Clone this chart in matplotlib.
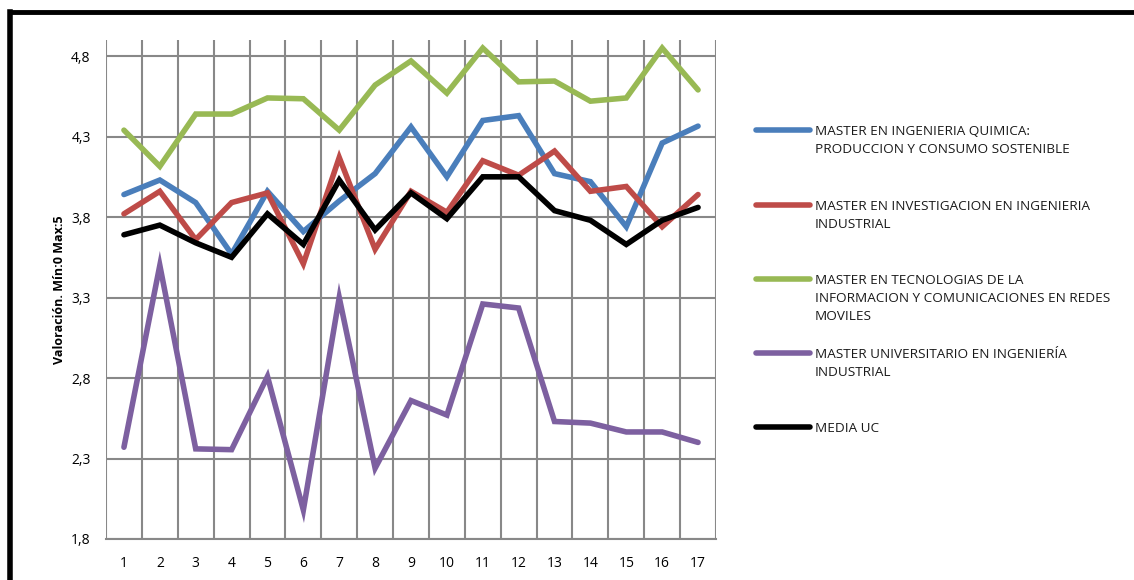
import matplotlib.pyplot as plt
from matplotlib.lines import Line2D
from matplotlib.ticker import FuncFormatter

plt.rcParams['font.family'] = ['Open Sans', 'DejaVu Sans']

x = list(range(1, 18))

quimica = [3.94, 4.03, 3.89, 3.57, 3.96, 3.71, 3.90, 4.07, 4.36, 4.05, 4.40, 4.43, 4.07, 4.02, 3.74, 4.26, 4.365]
investigacion = [3.82, 3.96, 3.66, 3.89, 3.95, 3.51, 4.17, 3.60, 3.96, 3.83, 4.15, 4.06, 4.21, 3.96, 3.99, 3.74, 3.94]
tecnologias = [4.34, 4.115, 4.44, 4.44, 4.54, 4.535, 4.34, 4.62, 4.77, 4.57, 4.85, 4.64, 4.645, 4.52, 4.54, 4.85, 4.59]
universitario = [2.37, 3.50, 2.36, 2.355, 2.81, 1.98, 3.30, 2.24, 2.66, 2.57, 3.26, 3.235, 2.53, 2.52, 2.465, 2.465, 2.40]
media = [3.69, 3.75, 3.64, 3.55, 3.82, 3.63, 4.03, 3.72, 3.95, 3.79, 4.05, 4.05, 3.84, 3.78, 3.63, 3.78, 3.86]

labels = ['MASTER EN INGENIERIA QUIMICA:\nPRODUCCION Y CONSUMO SOSTENIBLE',
          'MASTER EN INVESTIGACION EN INGENIERIA\nINDUSTRIAL',
          'MASTER EN TECNOLOGIAS DE LA\nINFORMACION Y COMUNICACIONES EN REDES\nMOVILES',
          'MASTER UNIVERSITARIO EN INGENIERÍA\nINDUSTRIAL',
          'MEDIA UC']
colors = ['#4A7EBB', '#BE4B48', '#98B954', '#7D60A0', '#000000']
series = [quimica, investigacion, tecnologias, universitario, media]
yticks = [1.8, 2.3, 2.8, 3.3, 3.8, 4.3, 4.8]

fig = plt.figure(figsize=(11.34, 5.8), dpi=100)
ax = fig.add_axes([106/1134, 1-539/580, (716-106)/1134, (539-40)/580])

for s, c in zip(series, colors):
    ax.plot(x, s, color=c, lw=4, solid_capstyle='round', solid_joinstyle='miter', zorder=3)

ax.set_xlim(0.5, 17.5)
ax.set_ylim(1.8, 4.9)
ax.set_xticks(x)
ax.set_yticks(yticks)
ax.yaxis.set_major_formatter(FuncFormatter(lambda v, p: f'{v:.1f}'.replace('.', ',')))
# vertical grid at category boundaries
for b in [i + 0.5 for i in range(0, 18)]:
    ax.axvline(b, color='#888888', lw=1.5, zorder=1)
ax.yaxis.grid(True, color='#888888', lw=1.5, zorder=1)
ax.set_axisbelow(True)
for sp in ['top', 'right']:
    ax.spines[sp].set_visible(False)
ax.spines['left'].set_visible(False)
ax.spines['bottom'].set_color('#888888')
ax.spines['bottom'].set_linewidth(1.5)
ax.tick_params(length=0, labelsize=10)
ax.tick_params(axis='x', pad=12)
ax.tick_params(axis='y', pad=11)
ax.set_ylabel('Valoración. Mín:0 Max:5', fontsize=9, fontweight='bold', labelpad=4)

# legend drawn manually to keep marker aligned with first text line
leg_y = [130, 205, 279, 353, 427]
for yy, lab, c in zip(leg_y, labels, colors):
    fy = 1 - yy/580
    fig.add_artist(Line2D([756/1134, 810/1134], [fy, fy], color=c, lw=4,
                          solid_capstyle='round', transform=fig.transFigure))
    fig.text(815/1134, fy + 5/580, lab, fontsize=9.7, va='top', ha='left',
             linespacing=1.5, color='#1a1a1a')

# chart border
fig.add_artist(Line2D([10/1134, 10/1134], [0, 1-12/580], color='black', lw=4,
                      transform=fig.transFigure))
fig.add_artist(Line2D([10/1134, 1], [1-12/580, 1-12/580], color='black', lw=3.5,
                      transform=fig.transFigure))

fig.savefig('out.png', dpi=100)
